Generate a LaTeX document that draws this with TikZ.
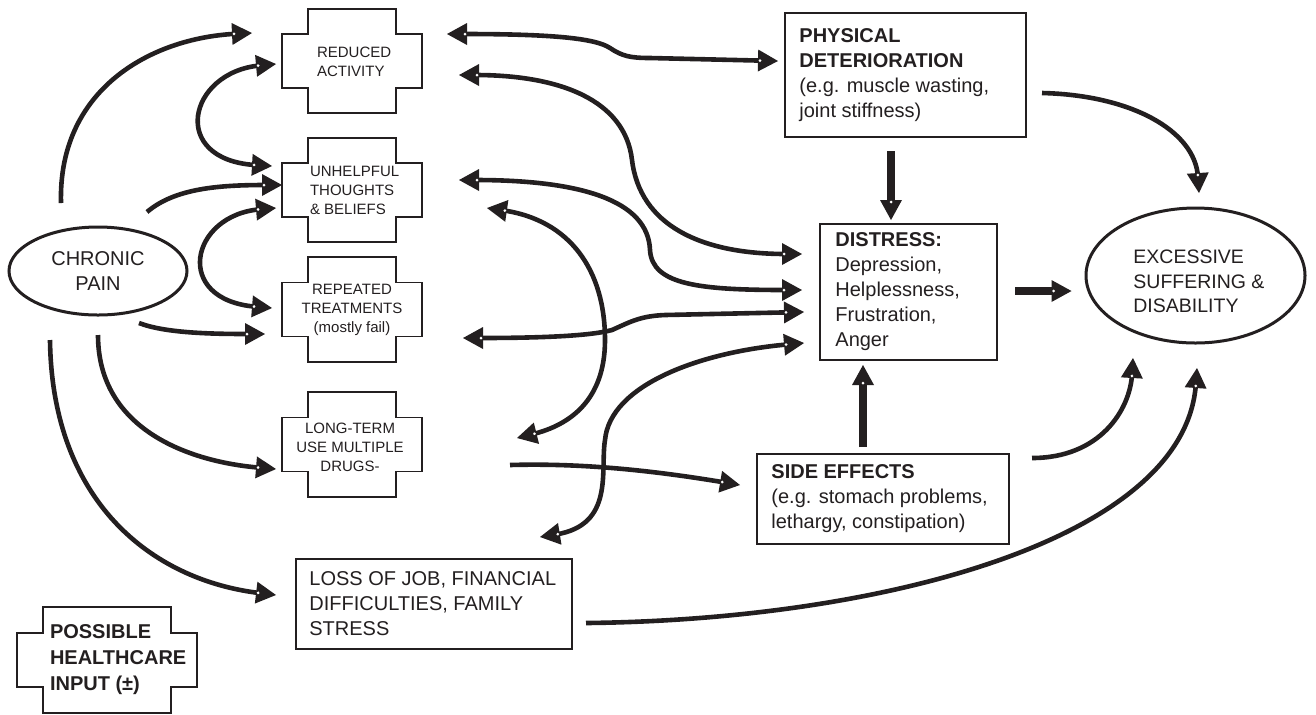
\documentclass[tikz,border=0pt]{standalone}
\usepackage{fontspec}
\setmainfont{Liberation Sans}
\usetikzlibrary{arrows.meta,shapes.geometric}
\definecolor{ink}{HTML}{231F20}

% Solid triangular head with a small white dot where the shaft meets it
\pgfdeclarearrow{
  name = Head,
  setup code = {
    \pgfarrowssettipend{0pt}
    \pgfarrowssetlineend{-8pt}
    \pgfarrowssetbackend{-10pt}
    \pgfarrowshullpoint{0pt}{0pt}
    \pgfarrowsupperhullpoint{-10pt}{5.5pt}
  },
  drawing code = {
    \pgfsetfillcolor{ink}
    \pgfpathmoveto{\pgfpointorigin}
    \pgfpathlineto{\pgfpoint{-10pt}{5.5pt}}
    \pgfpathlineto{\pgfpoint{-10pt}{-5.5pt}}
    \pgfpathclose
    \pgfusepathqfill
    \pgfsetfillcolor{white}
    \pgfpathcircle{\pgfpoint{-9pt}{0pt}}{0.75pt}
    \pgfusepathqfill
  }
}

\tikzset{
  outline/.style={draw=ink, line width=0.9pt},
  pics/plusbox/.style n args={2}{code={
    \draw[outline] (-#1,-27) -- (-#1,27) -- (-#1+26,27) -- (-#1+26,#2)
      -- (#1-26,#2) -- (#1-26,27) -- (#1,27) -- (#1,-27) -- (#1-26,-27)
      -- (#1-26,-#2) -- (-#1+26,-#2) -- (-#1+26,-27) -- cycle;
  }},
  crosscore/.style={inner sep=0pt, minimum width=70pt, minimum height=27pt},
  crosstext/.style={text=ink, font=\fontsize{7.5pt}{9.5pt}\selectfont, inner sep=0pt},
  panel/.style={draw=ink, line width=1pt, rectangle, inner sep=0pt},
  oval/.style={draw=ink, line width=1.5pt, ellipse, inner sep=0pt},
  bodytext/.style={text=ink, font=\fontsize{10pt}{12.5pt}\selectfont, align=left, inner sep=0pt},
  link/.style={draw=ink, line width=2.3pt, -{Head}},
  twoway/.style={draw=ink, line width=2.3pt, {Head}-{Head}},
  bold link/.style={draw=ink, line width=4pt, -{Head}},
}

\begin{document}
\begin{tikzpicture}[x=0.5pt,y=-0.5pt]
\useasboundingbox (0,0) rectangle (1316,714);

% ---- ovals ----
\node[oval, minimum width=89pt, minimum height=44pt, text=ink,
      font=\fontsize{10pt}{12.5pt}\selectfont, align=center] (cp) at (98,271) {CHRONIC\\PAIN};
\node[oval, minimum width=109.5pt, minimum height=67.5pt] (exc) at (1195.5,275.5) {};
\node[text=ink, font=\fontsize{9.75pt}{12.25pt}\selectfont, align=left, inner sep=0pt, anchor=west]
     (exc-t) at (1133,281.5) {EXCESSIVE\\SUFFERING \&\\DISABILITY};

% ---- plus-shaped boxes ----
\node[crosscore] (ra) at (352,61) {};
\pic at (ra) {plusbox={70}{52}};
\node[crosstext, align=left, anchor=west, xshift=17.5pt, yshift=-0.5pt] (ra-t) at (ra.west) {REDUCED\\ACTIVITY};

\node[crosscore] (ut) at (352,190) {};
\pic at (ut) {plusbox={70}{52}};
\node[crosstext, align=left, anchor=west, xshift=14pt] (ut-t) at (ut.west) {UNHELPFUL\\THOUGHTS\\\&~BELIEFS};

\node[crosscore] (rt) at (352,309.5) {};
\pic at (rt) {plusbox={70}{52.5}};
\node[crosstext, align=center] (rt-t) at (rt) {REPEATED\\TREATMENTS\\(mostly fail)};

\node[crosscore] (lt) at (352,444.5) {};
\pic at (lt) {plusbox={70}{52.5}};
\node[crosstext, align=center, xshift=-1pt, yshift=-1.5pt] (lt-t) at (lt) {LONG-TERM\\USE MULTIPLE\\DRUGS-};

\node[crosscore, minimum width=90pt] (ph) at (107,660) {};
\pic at (ph) {plusbox={90}{53}};
\node[text=ink, font=\bfseries\fontsize{10pt}{13pt}\selectfont, align=left, inner sep=0pt,
      anchor=west, xshift=16.5pt] (ph-t) at (ph.west) {POSSIBLE\\HEALTHCARE\\INPUT (±)};

% ---- rectangular boxes ----
\node[panel, minimum width=120.5pt, minimum height=62pt] (phys) at (905.5,75) {};
\node[bodytext, anchor=west, xshift=7.5pt] (phys-t) at (phys.west)
     {\textbf{PHYSICAL}\\\textbf{DETERIORATION}\\(e.g. muscle wasting,\\joint stiffness)};

\node[panel, minimum width=88.5pt, minimum height=68pt] (dist) at (908.5,292) {};
\node[bodytext, anchor=west, xshift=8pt] (dist-t) at (dist.west)
     {\textbf{DISTRESS:}\\Depression,\\Helplessness,\\Frustration,\\Anger};

\node[panel, minimum width=126pt, minimum height=45pt] (side) at (883,499) {};
\node[bodytext, anchor=west, xshift=7.5pt] (side-t) at (side.west)
     {\textbf{SIDE EFFECTS}\\(e.g. stomach problems,\\lethargy, constipation)};

\node[panel, minimum width=138pt, minimum height=45pt] (loss) at (434,604) {};
\node[bodytext, anchor=west, xshift=7pt] (loss-t) at (loss.west)
     {LOSS OF JOB, FINANCIAL\\DIFFICULTIES, FAMILY\\STRESS};

% ---- connector end points ----
\coordinate (cp-a) at (61,203);   \coordinate (ra-a) at (252,33);
\coordinate (cp-b) at (147,212);  \coordinate (ut-b) at (282,185);
\coordinate (cp-c) at (139,323);  \coordinate (rt-c) at (265,334);
\coordinate (cp-d) at (98,335);   \coordinate (lt-d) at (276,469);
\coordinate (cp-e) at (50,340);   \coordinate (loss-e) at (276,595);
\coordinate (ra-f) at (276,64);   \coordinate (ut-f) at (272,166);
\coordinate (ut-g) at (276,208);  \coordinate (rt-g) at (272,308);
\coordinate (ra-h) at (447,34);   \coordinate (phys-h) at (778,61);
\coordinate (ra-i) at (459,75);   \coordinate (dist-i) at (802,254);
\coordinate (ut-j) at (459,180);  \coordinate (dist-j) at (802,290);
\coordinate (rt-k) at (463,338);  \coordinate (dist-k) at (804,312);
\coordinate (ut-l) at (487,208);  \coordinate (lt-l) at (517,438);
\coordinate (dist-m) at (804,343); \coordinate (loss-m) at (540,537);
\coordinate (lt-n) at (510,465);  \coordinate (side-n) at (740,485);
\coordinate (phys-o) at (1042,93); \coordinate (exc-o) at (1199,193);
\coordinate (side-p) at (1032,458); \coordinate (exc-p) at (1133,358);
\coordinate (loss-q) at (586,623); \coordinate (exc-q) at (1197,368);

% ---- from chronic pain ----
\draw[link] (cp-a) .. controls (58,90) and (150,38) .. (ra-a);
\draw[link] (cp-b) .. controls (175,188) and (220,185) .. (ut-b);
\draw[link] (cp-c) .. controls (165,333) and (210,334) .. (rt-c);
\draw[link] (cp-d) .. controls (98,430) and (190,462) .. (lt-d);
\draw[link] (cp-e) .. controls (52,500) and (150,580) .. (loss-e);

% ---- loops between the plus-shaped boxes ----
\draw[twoway] (ra-f) .. controls (188,72) and (168,160) .. (ut-f);
\draw[twoway] (ut-g) .. controls (190,215) and (172,300) .. (rt-g);

% ---- two-way links across the middle ----
\draw[twoway] (ra-h) .. controls (550,34) and (595,38) .. (610,48)
              .. controls (622,56) and (630,58) .. (650,58) -- (phys-h);
\draw[twoway] (ra-i) .. controls (560,75) and (625,100) .. (632,160)
              .. controls (640,225) and (700,254) .. (dist-i);
\draw[twoway] (ut-j) .. controls (580,180) and (648,200) .. (650,250)
              .. controls (652,285) and (700,290) .. (dist-j);
\draw[twoway] (rt-k) .. controls (540,338) and (590,336) .. (612,330)
              .. controls (630,322) and (640,316) .. (665,315) -- (dist-k);
\draw[twoway] (ut-l) .. controls (570,220) and (605,270) .. (605,340)
              .. controls (605,400) and (570,425) .. (lt-l);
\draw[twoway] (dist-m) .. controls (700,352) and (610,385) .. (605,440)
              .. controls (600,470) and (615,525) .. (loss-m);

% ---- onward links ----
\draw[link] (lt-n) .. controls (580,463) and (650,470) .. (side-n);
\draw[link] (phys-o) .. controls (1130,95) and (1195,130) .. (exc-o);
\draw[link] (side-p) .. controls (1100,458) and (1130,410) .. (exc-p);
\draw[link] (loss-q) .. controls (880,620) and (1185,540) .. (exc-q);

% ---- heavy straight arrows ----
\draw[bold link, shorten <=6.5pt, shorten >=1.5pt]
  ([xshift=-7.25pt]phys.south) -- ([xshift=-7.25pt]phys.south |- dist.north);
\draw[bold link, shorten <=3pt, shorten >=2pt]
  ([xshift=-10pt]side.north) -- ([xshift=-10pt]side.north |- dist.south);
\draw[bold link, shorten <=8.5pt, shorten >=6.5pt]
  ([yshift=0.5pt]dist.east) -- ([yshift=0.5pt]dist.east -| exc.west);
\end{tikzpicture}
\end{document}
